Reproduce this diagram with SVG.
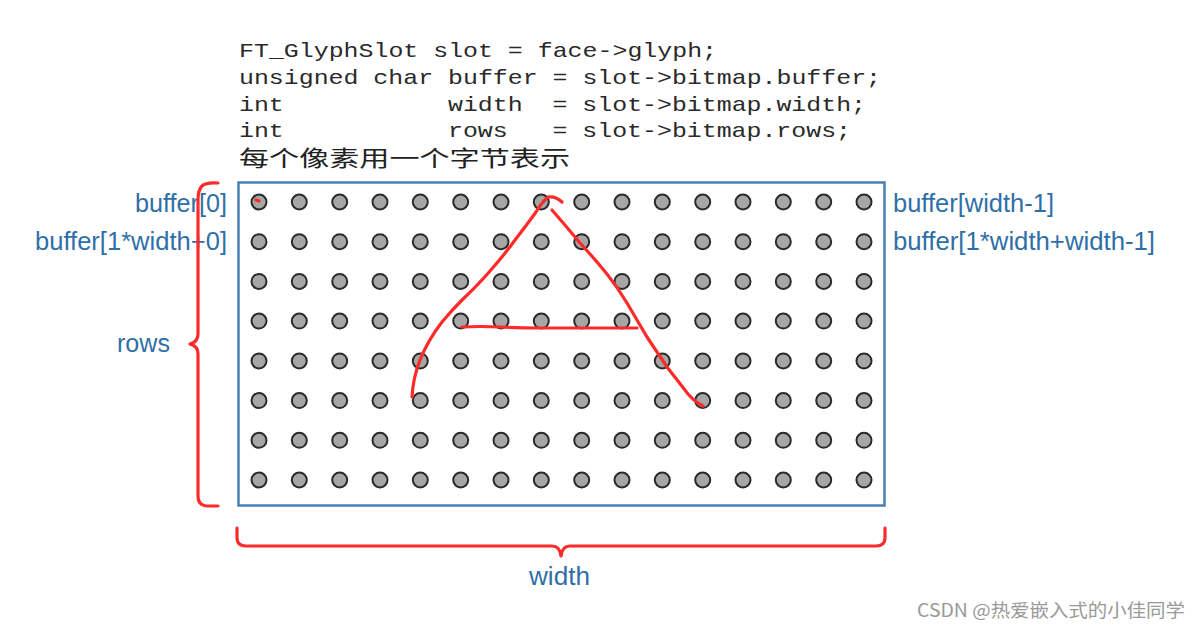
<svg xmlns="http://www.w3.org/2000/svg" width="1201" height="632" viewBox="0 0 1201 632">
<defs>
<style>
.code{font-family:"Liberation Mono","Courier New",monospace;font-size:21px;fill:#2a2a2a}
.cjk{font-family:"Noto Sans CJK SC","Noto Sans CJK JP",serif;font-size:22px;fill:#222}
.lbl{font-family:"Liberation Sans",Arial,sans-serif;font-size:25px;fill:#2f6fa8}
.red{fill:none;stroke:#ff2a2a;stroke-width:3.2;stroke-linecap:round;stroke-linejoin:round}
.dot{fill:#a6a6a6;stroke:#2a2a2a;stroke-width:2}
.wm{font-family:"Noto Sans CJK SC","Liberation Sans",sans-serif;font-size:18px;fill:#999}
</style>
<circle id="px" r="7.5" class="dot"/>
<g id="row">
<use href="#px" x="259"/><use href="#px" x="299.3"/><use href="#px" x="339.7"/><use href="#px" x="380"/>
<use href="#px" x="420.3"/><use href="#px" x="460.7"/><use href="#px" x="501"/><use href="#px" x="541.3"/>
<use href="#px" x="581.7"/><use href="#px" x="622"/><use href="#px" x="662.3"/><use href="#px" x="702.7"/>
<use href="#px" x="743"/><use href="#px" x="783.3"/><use href="#px" x="823.7"/><use href="#px" x="864"/>
</g>
</defs>
<rect width="1201" height="632" fill="#fff"/>
<g id="code">
<text class="code" x="239" y="57" textLength="478" lengthAdjust="spacingAndGlyphs">FT_GlyphSlot slot = face-&gt;glyph;</text>
<text class="code" x="239" y="84" textLength="642" lengthAdjust="spacingAndGlyphs">unsigned char buffer = slot-&gt;bitmap.buffer;</text>
<text class="code" x="239" y="111" xml:space="preserve" textLength="627" lengthAdjust="spacingAndGlyphs">int           width  = slot-&gt;bitmap.width;</text>
<text class="code" x="239" y="137" xml:space="preserve" textLength="612" lengthAdjust="spacingAndGlyphs">int           rows   = slot-&gt;bitmap.rows;</text>
<text class="cjk" x="239" y="166" textLength="331" lengthAdjust="spacingAndGlyphs">每个像素用一个字节表示</text>
</g>
<g id="bitmap">
<rect x="238.5" y="182.5" width="646" height="323" fill="none" stroke="#4a80b5" stroke-width="2.5"/>
<use href="#row" y="202"/>
<use href="#row" y="241.7"/>
<use href="#row" y="281.4"/>
<use href="#row" y="321.1"/>
<use href="#row" y="360.9"/>
<use href="#row" y="400.6"/>
<use href="#row" y="440.3"/>
<use href="#row" y="480"/>
</g>
<g id="labels">
<text class="lbl" x="227" y="212" text-anchor="end" textLength="92" lengthAdjust="spacingAndGlyphs">buffer[0]</text>
<text class="lbl" x="227" y="250" text-anchor="end" textLength="192" lengthAdjust="spacingAndGlyphs">buffer[1*width+0]</text>
<text class="lbl" x="893" y="212" textLength="161" lengthAdjust="spacingAndGlyphs">buffer[width-1]</text>
<text class="lbl" x="893" y="250" textLength="262" lengthAdjust="spacingAndGlyphs">buffer[1*width+width-1]</text>
<text class="lbl" x="117" y="352" textLength="53" lengthAdjust="spacingAndGlyphs">rows</text>
<text class="lbl" x="529" y="585" textLength="61" lengthAdjust="spacingAndGlyphs">width</text>
</g>
<g id="connectors">
<path class="red" d="M218,183 Q206,182 202,186 Q198,190 198,200 L198,334 Q198,342 190,344 Q198,346 198,354 L198,496 Q198,505 206,506 L218,506"/>
<path class="red" d="M237,528 L237,538 Q237,546 246,546 L552,546 Q560,546 561,556 Q562,546 570,546 L876,546 Q885,546 885,538 L885,528"/>
<path class="red" d="M412,397 Q413,378 420,360 Q428,340 442,322 Q452,310 462,300 Q478,285 490,271 Q505,254 515,240 Q526,226 536,212 Q542,202 548,197 Q556,196 562,202"/>
<path class="red" d="M552,210 Q566,226 580,243 Q594,258 607,274 Q618,288 627,303 Q637,320 647,337 Q657,352 667,367 Q678,381 688,394 Q695,402 703,406"/>
<path class="red" d="M462,327 Q480,326 500,327 Q520,328 540,328 Q580,328 637,328"/>
<path class="red" d="M256,200 L259,201" stroke-width="2"/>
</g>
<text class="wm" x="917" y="617" textLength="268" lengthAdjust="spacingAndGlyphs">CSDN @热爱嵌入式的小佳同学</text>
</svg>
